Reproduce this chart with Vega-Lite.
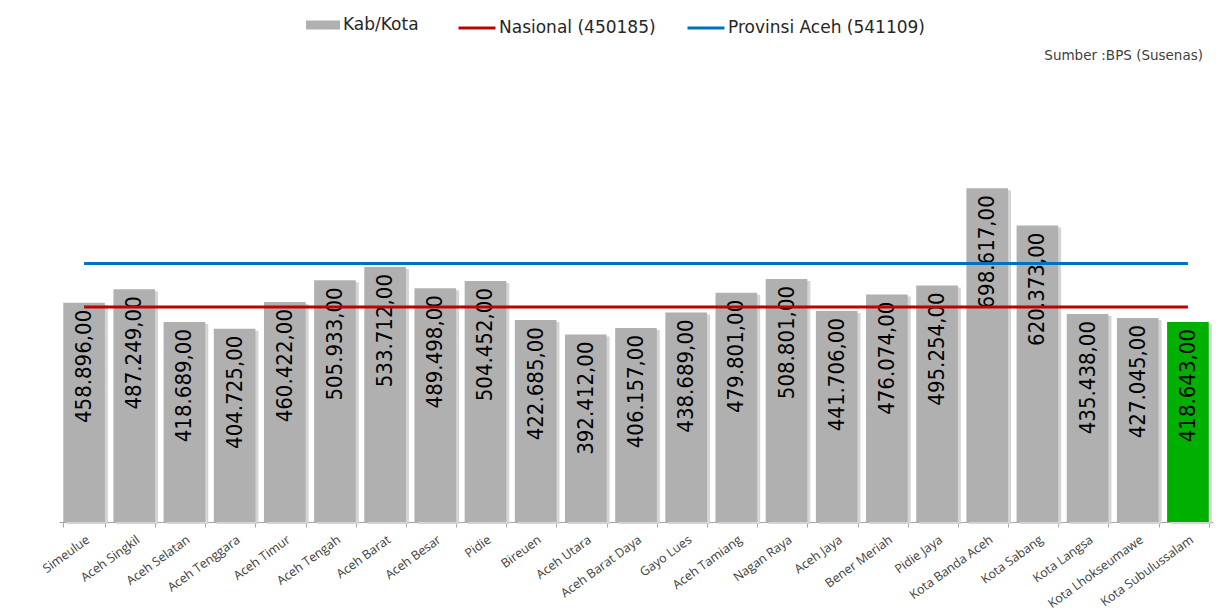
{
  "$schema": "https://vega.github.io/schema/vega-lite/v6.json",
  "width": 1154,
  "height": 430,
  "autosize": {"type": "none"},
  "padding": {"left": 59, "top": 92, "right": 8, "bottom": 90},
  "background": "white",
  "config": {
    "view": {"stroke": null},
    "locale": {"number": {"decimal": ",", "thousands": ".", "grouping": [3], "currency": ["Rp", ""]}}
  },
  "title": {
    "text": "Sumber :BPS (Susenas)",
    "orient": "top",
    "anchor": "end",
    "frame": "group",
    "offset": 0,
    "dy": 54,
    "dx": -10,
    "font": "DejaVu Sans",
    "fontSize": 13.5,
    "fontWeight": "normal",
    "color": "#404040"
  },
  "datasets": {
    "kab": [
      {"wilayah": "Simeulue", "nilai": 458896, "grp": "Kab/Kota"},
      {"wilayah": "Aceh Singkil", "nilai": 487249, "grp": "Kab/Kota"},
      {"wilayah": "Aceh Selatan", "nilai": 418689, "grp": "Kab/Kota"},
      {"wilayah": "Aceh Tenggara", "nilai": 404725, "grp": "Kab/Kota"},
      {"wilayah": "Aceh Timur", "nilai": 460422, "grp": "Kab/Kota"},
      {"wilayah": "Aceh Tengah", "nilai": 505933, "grp": "Kab/Kota"},
      {"wilayah": "Aceh Barat", "nilai": 533712, "grp": "Kab/Kota"},
      {"wilayah": "Aceh Besar", "nilai": 489498, "grp": "Kab/Kota"},
      {"wilayah": "Pidie", "nilai": 504452, "grp": "Kab/Kota"},
      {"wilayah": "Bireuen", "nilai": 422685, "grp": "Kab/Kota"},
      {"wilayah": "Aceh Utara", "nilai": 392412, "grp": "Kab/Kota"},
      {"wilayah": "Aceh Barat Daya", "nilai": 406157, "grp": "Kab/Kota"},
      {"wilayah": "Gayo Lues", "nilai": 438689, "grp": "Kab/Kota"},
      {"wilayah": "Aceh Tamiang", "nilai": 479801, "grp": "Kab/Kota"},
      {"wilayah": "Nagan Raya", "nilai": 508801, "grp": "Kab/Kota"},
      {"wilayah": "Aceh Jaya", "nilai": 441706, "grp": "Kab/Kota"},
      {"wilayah": "Bener Meriah", "nilai": 476074, "grp": "Kab/Kota"},
      {"wilayah": "Pidie Jaya", "nilai": 495254, "grp": "Kab/Kota"},
      {"wilayah": "Kota Banda Aceh", "nilai": 698617, "grp": "Kab/Kota"},
      {"wilayah": "Kota Sabang", "nilai": 620373, "grp": "Kab/Kota"},
      {"wilayah": "Kota Langsa", "nilai": 435438, "grp": "Kab/Kota"},
      {"wilayah": "Kota Lhokseumawe", "nilai": 427045, "grp": "Kab/Kota"},
      {"wilayah": "Kota Subulussalam", "nilai": 418643, "grp": "Sorot"}
    ],
    "nasional": [
      {"awal": "Simeulue", "akhir": "Kota Subulussalam", "nilai": 450185, "seri": "Nasional (450185)"}
    ],
    "provinsi": [
      {"awal": "Simeulue", "akhir": "Kota Subulussalam", "nilai": 541109, "seri": "Provinsi Aceh (541109)"}
    ]
  },
  "encoding": {
    "x": {
      "field": "wilayah",
      "type": "nominal",
      "sort": null,
      "scale": {"paddingInner": 0.17, "paddingOuter": 0.085},
      "axis": {
        "title": null,
        "labelAngle": -36,
        "labelAlign": "right",
        "labelBaseline": "top",
        "labelFont": "Open Sans",
        "labelFontSize": 12.5,
        "labelColor": "#404040",
        "domainColor": "#a6a6a6",
        "tickColor": "#a6a6a6",
        "tickSize": 5,
        "tickBand": "extent",
        "labelPadding": 6
      }
    }
  },
  "layer": [
    {
      "data": {"name": "kab"},
      "mark": {"type": "bar", "xOffset": 3, "yOffset": 2, "color": "#d4d4d4"},
      "encoding": {
        "y": {"field": "nilai", "type": "quantitative", "scale": {"domain": [0, 900000]}, "axis": null}
      }
    },
    {
      "data": {"name": "kab"},
      "mark": {"type": "bar"},
      "encoding": {
        "y": {"field": "nilai", "type": "quantitative", "scale": {"domain": [0, 900000]}, "axis": null},
        "fill": {
          "field": "grp",
          "type": "nominal",
          "scale": {"domain": ["Kab/Kota", "Sorot"], "range": ["#b0b0b0", "#00b000"]},
          "legend": {
            "values": ["Kab/Kota"],
            "title": null,
            "orient": "none",
            "legendX": 247,
            "legendY": -84,
            "symbolType": "M-1,-0.26H1V0.26H-1Z",
            "symbolSize": 1156,
            "symbolStrokeWidth": 0,
            "labelFont": "DejaVu Sans",
            "labelFontSize": 17,
            "labelColor": "#262626",
            "labelOffset": 3,
            "labelLimit": 400
          }
        }
      }
    },
    {
      "data": {"name": "kab"},
      "mark": {"type": "text", "angle": 270, "align": "right", "baseline": "middle", "dx": -7, "font": "DejaVu Sans Condensed", "fontSize": 22, "color": "#000000"},
      "encoding": {
        "y": {"field": "nilai", "type": "quantitative", "scale": {"domain": [0, 900000]}},
        "text": {"field": "nilai", "type": "quantitative", "format": ",.2f"}
      }
    },
    {
      "data": {"name": "nasional"},
      "mark": {"type": "rule", "strokeWidth": 3},
      "encoding": {
        "x": {"field": "awal", "type": "nominal", "sort": null},
        "x2": {"field": "akhir"},
        "y": {"field": "nilai", "type": "quantitative", "scale": {"domain": [0, 900000]}},
        "stroke": {
          "field": "seri",
          "type": "nominal",
          "scale": {"range": ["#c00000"]},
          "legend": {
            "title": null,
            "orient": "none",
            "legendX": 398,
            "legendY": -84,
            "symbolType": "stroke",
            "symbolSize": 1369,
            "symbolStrokeWidth": 3,
            "labelFont": "DejaVu Sans",
            "labelFontSize": 17,
            "labelColor": "#262626",
            "labelOffset": 2,
            "labelLimit": 400
          }
        }
      }
    },
    {
      "data": {"name": "provinsi"},
      "mark": {"type": "rule", "strokeWidth": 3},
      "encoding": {
        "x": {"field": "awal", "type": "nominal", "sort": null},
        "x2": {"field": "akhir"},
        "y": {"field": "nilai", "type": "quantitative", "scale": {"domain": [0, 900000]}},
        "color": {
          "field": "seri",
          "type": "nominal",
          "scale": {"range": ["#0070c0"]},
          "legend": {
            "title": null,
            "orient": "none",
            "legendX": 627,
            "legendY": -84,
            "symbolType": "stroke",
            "symbolSize": 1369,
            "symbolStrokeWidth": 3,
            "labelFont": "DejaVu Sans",
            "labelFontSize": 17,
            "labelColor": "#262626",
            "labelOffset": 2,
            "labelLimit": 400
          }
        }
      }
    }
  ]
}
